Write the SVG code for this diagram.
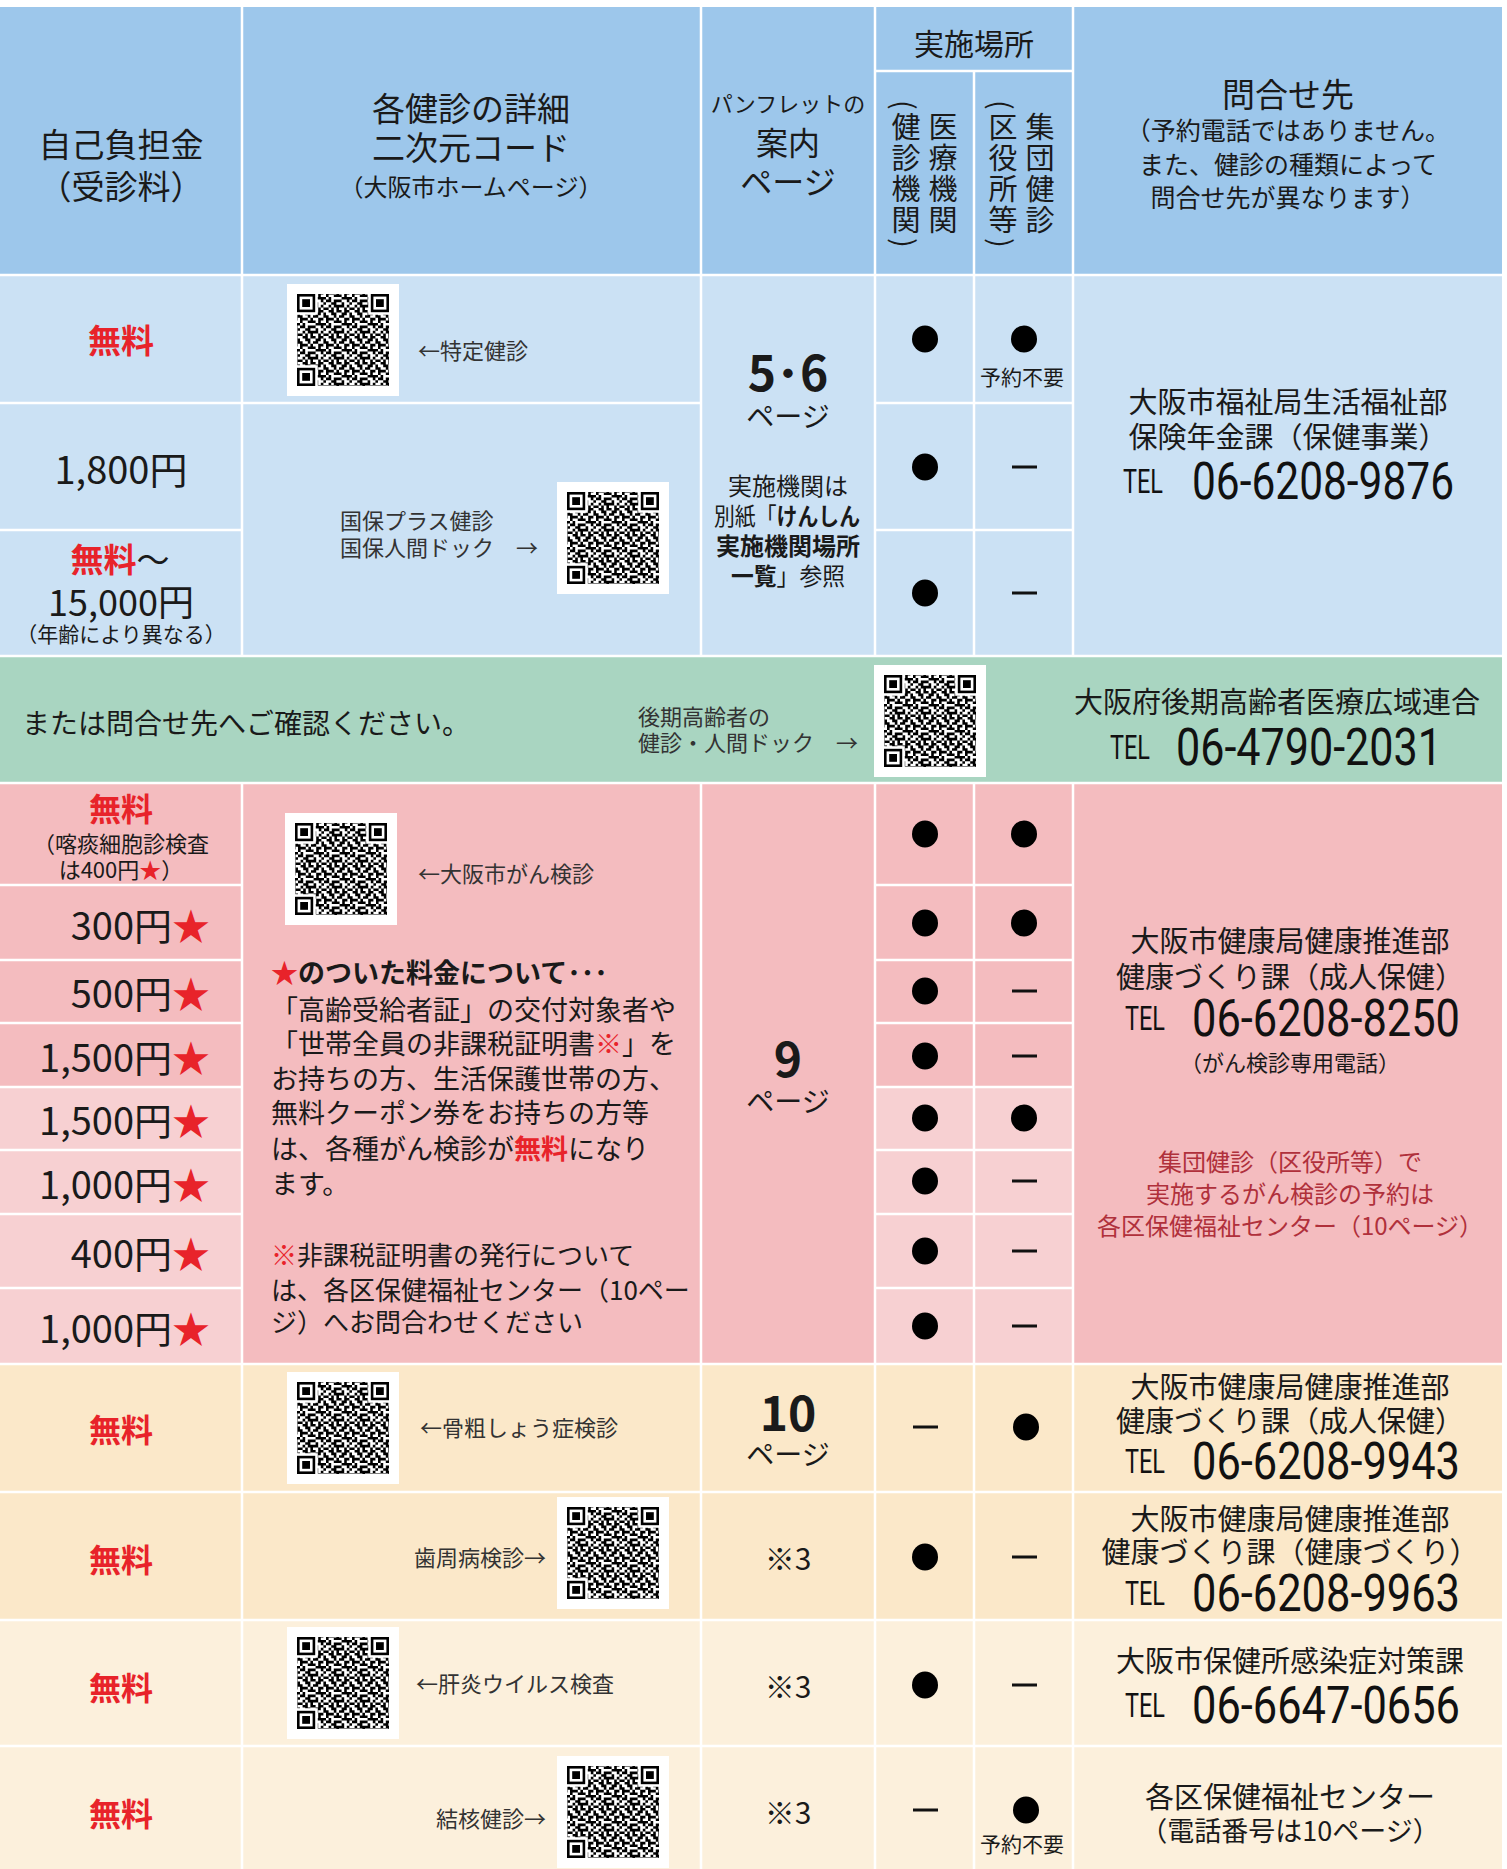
<svg xmlns="http://www.w3.org/2000/svg" xmlns:xlink="http://www.w3.org/1999/xlink" width="1507" height="1869" viewBox="0 0 1507 1869">
<style>
text{font-family:"Noto Sans CJK JP","Noto Sans",sans-serif;fill:#1a1a1a;dominant-baseline:central}
.c{text-anchor:middle}
.e{text-anchor:end}
.red{fill:#e8232a}
.b{font-weight:700}
.dr{fill:#b0303b}
.g{fill:#333}
.v{writing-mode:vertical-rl;font-size:29px;letter-spacing:2px}
.tel{font-family:"Liberation Sans Narrow","Roboto","Liberation Sans",sans-serif;fill:#111}
.tl{font-size:34px}
.tn{font-size:52px}
.s33{font-size:33px}.s32{font-size:32px}.s30{font-size:30px}.s29{font-size:29px}.s28{font-size:28px}.s27{font-size:27px}.s26{font-size:26px}.s25{font-size:25px}.s24{font-size:24px}.s22{font-size:22px}.s21{font-size:21px}.s20{font-size:20px}.s38{font-size:38px}.s48{font-size:48px}
.dot{fill:#000}
.dash{stroke:#111;stroke-width:3}
.grid{stroke:#fff;stroke-width:2.5;fill:none}
</style>
<defs>
<pattern id="qrp" width="10" height="10" patternUnits="userSpaceOnUse" patternTransform="scale(2.6)">
<path d="M0 0h1v1h-1z M2 0h2v1h-2z M6 0h2v1h-2z M9 0h1v1h-1z M1 1h2v1h-2z M4 1h1v1h-1z M7 1h2v1h-2z M0 2h2v1h-2z M4 2h2v1h-2z M8 2h1v1h-1z M2 3h2v1h-2z M5 3h3v1h-3z M9 3h1v1h-1z M0 4h1v1h-1z M2 4h1v1h-1z M5 4h1v1h-1z M8 4h2v1h-2z M1 5h4v1h-4z M6 5h1v1h-1z M0 6h1v1h-1z M3 6h1v1h-1z M5 6h2v1h-2z M8 6h2v1h-2z M1 7h1v1h-1z M4 7h1v1h-1z M7 7h2v1h-2z M0 8h2v1h-2z M3 8h1v1h-1z M6 8h1v1h-1z M8 8h2v1h-2z M2 9h1v1h-1z M4 9h2v1h-2z M7 9h1v1h-1z M9 9h1v1h-1z" fill="#000"/>
</pattern>
<g id="fp"><rect x="-2.6" y="-2.6" width="23.4" height="23.4" fill="#fff"/><rect width="18.2" height="18.2" fill="#000"/><rect x="2.6" y="2.6" width="13" height="13" fill="#fff"/><rect x="5.2" y="5.2" width="7.8" height="7.8" fill="#000"/></g>
<g id="qr">
<rect width="112" height="112" fill="#fff"/>
<rect x="10" y="10" width="92" height="92" fill="url(#qrp)"/>
<use href="#fp" x="10" y="10"/><use href="#fp" x="83.8" y="10"/><use href="#fp" x="10" y="83.8"/>
</g>
</defs>

<rect width="1507" height="1869" fill="#fff"/>
<g id="backgrounds">
<rect x="0" y="7" width="1502" height="268" fill="#9DC7EB"/>
<rect x="0" y="275" width="1502" height="381" fill="#CBE1F4"/>
<rect x="0" y="656" width="1502" height="127" fill="#A9D5C1"/>
<rect x="0" y="783" width="1502" height="581" fill="#F4BCBF"/>
<rect x="0" y="1087" width="242" height="277" fill="#F7D0D2"/>
<rect x="875" y="1087" width="198" height="277" fill="#F7D0D2"/>
<rect x="0" y="1364" width="1502" height="256" fill="#FBE8C9"/>
<rect x="0" y="1620" width="1502" height="249" fill="#FCF0DC"/>
</g>
<g id="gridlines" class="grid">
<path d="M0 275H1502M0 656H1502M0 783H1502M0 1364H1502M0 1492H1502M0 1620H1502M0 1746H1502M875 71H1073M0 403H701M875 403H1073M0 530H242M875 530H1073M0 885H242M875 885H1073M0 960H242M875 960H1073M0 1023H242M875 1023H1073M0 1087H242M875 1087H1073M0 1150H242M875 1150H1073M0 1214H242M875 1214H1073M0 1288H242M875 1288H1073"/>
<path d="M242 7V656M701 7V656M875 7V656M974 71V656M1073 7V656M242 783V1869M701 783V1869M875 783V1869M974 783V1869M1073 783V1869"/>
</g>
<g id="connectors"></g>

<g id="header">
<text class="c s33" x="121" y="143">自己負担金</text>
<text class="c s33" x="121" y="185">（受診料）</text>
<text class="c s33" x="471" y="107">各健診の詳細</text>
<text class="c s33" x="471" y="146">二次元コード</text>
<text class="c s24" x="471" y="185">（大阪市ホームページ）</text>
<text class="c s22" x="788" y="102">パンフレットの</text>
<text class="c s32" x="788" y="141">案内</text>
<text class="c s32" x="788" y="180">ページ</text>
<text class="c s30" x="974" y="42">実施場所</text>
<text class="v" x="943" y="112">医療機関</text>
<text class="s29 c" transform="translate(906 105) rotate(90)">(</text>
<text class="v" x="906" y="112">健診機関</text>
<text class="s29 c" transform="translate(906 243) rotate(90)">)</text>
<text class="v" x="1040" y="112">集団健診</text>
<text class="s29 c" transform="translate(1003 105) rotate(90)">(</text>
<text class="v" x="1003" y="112">区役所等</text>
<text class="s29 c" transform="translate(1003 243) rotate(90)">)</text>
<text class="c s33" x="1288" y="93">問合せ先</text>
<text class="c s25" x="1288" y="129">（予約電話ではありません。</text>
<text class="c s25" x="1288" y="163">また、健診の種類によって</text>
<text class="c s25" x="1288" y="196">問合せ先が異なります）</text>
</g>

<g id="row-tokutei">
<text class="c s33 red b" x="121" y="339">無料</text>
<use href="#qr" x="287" y="284"/>
<text class="s22 g" x="418" y="349">←特定健診</text>
<ellipse class="dot" cx="925" cy="339" rx="13" ry="13.5"/>
<ellipse class="dot" cx="1024" cy="339" rx="13" ry="13.5"/>
<text class="c s21" x="1022" y="376">予約不要</text>
</g>
<g id="row-kokuho">
<text class="c s38" x="121" y="467">1,800円</text>
<text class="c s33" x="120" y="558"><tspan class="red b">無料</tspan>～</text>
<text class="c s36" style="font-size:36px" x="121" y="600">15,000円</text>
<text class="c s21" x="121" y="633">（年齢により異なる）</text>
<text class="s22 g" x="340" y="519">国保プラス健診</text>
<text class="s22 g" x="340" y="546">国保人間ドック　→</text>
<use href="#qr" x="557" y="482"/>
<ellipse class="dot" cx="925" cy="467" rx="13" ry="13.5"/>
<line class="dash" x1="1012" y1="467" x2="1037" y2="467"/>
<ellipse class="dot" cx="925" cy="593" rx="13" ry="13.5"/>
<line class="dash" x1="1012" y1="593" x2="1037" y2="593"/>
</g>
<g id="page-56">
<text class="c s48 b" x="788" y="370">5･6</text>
<text class="c s28" x="788" y="415">ページ</text>
<text class="c s24" x="788" y="484">実施機関は</text>
<text class="c s24" x="787" y="514" textLength="146" lengthAdjust="spacingAndGlyphs">別紙「<tspan class="b">けんしん</tspan></text>
<text class="c s24 b" x="788" y="544">実施機関場所</text>
<text class="c s24" x="788" y="574" textLength="114" lengthAdjust="spacingAndGlyphs"><tspan class="b">一覧</tspan>」参照</text>
</g>
<g id="contact-fukushi">
<text class="c s29" x="1288" y="400">大阪市福祉局生活福祉部</text>
<text class="c s29" x="1288" y="435">保険年金課（保健事業）</text>
<text class="tel tl" x="1123" y="481" textLength="40" lengthAdjust="spacingAndGlyphs">TEL</text>
<text class="tel tn" x="1192" y="481" textLength="262" lengthAdjust="spacingAndGlyphs">06-6208-9876</text>
</g>

<g id="row-kouki">
<text class="s28" x="22" y="722">または問合せ先へご確認ください。</text>
<text class="s22 g" x="638" y="715">後期高齢者の</text>
<text class="s22 g" x="638" y="741">健診・人間ドック　→</text>
<use href="#qr" x="874" y="665"/>
<text class="c s29" x="1277" y="700">大阪府後期高齢者医療広域連合</text>
<text class="tel tl" x="1110" y="747" textLength="40" lengthAdjust="spacingAndGlyphs">TEL</text>
<text class="tel tn" x="1176" y="747" textLength="266" lengthAdjust="spacingAndGlyphs">06-4790-2031</text>
</g>

<g id="row-gan">
<text class="c s32 red b" x="121" y="807">無料</text>
<text class="c s22" x="121" y="842">（喀痰細胞診検査</text>
<text class="c s22" x="121" y="868">は400円<tspan class="red">★</tspan>）</text>
<text class="e s38" x="210" y="923">300円<tspan class="red">★</tspan></text>
<text class="e s38" x="210" y="991">500円<tspan class="red">★</tspan></text>
<text class="e s38" x="210" y="1055">1,500円<tspan class="red">★</tspan></text>
<text class="e s38" x="210" y="1118">1,500円<tspan class="red">★</tspan></text>
<text class="e s38" x="210" y="1182">1,000円<tspan class="red">★</tspan></text>
<text class="e s38" x="210" y="1251">400円<tspan class="red">★</tspan></text>
<text class="e s38" x="210" y="1326">1,000円<tspan class="red">★</tspan></text>
<use href="#qr" x="285" y="813"/>
<text class="s22 g" x="418" y="872">←大阪市がん検診</text>
<text class="s27 b" x="271" y="971"><tspan class="red">★</tspan>のついた料金について･･･</text>
<text class="s27" x="271" y="1008">「高齢受給者証」の交付対象者や</text>
<text class="s27" x="271" y="1042">「世帯全員の非課税証明書<tspan class="red">※</tspan>」を</text>
<text class="s27" x="271" y="1077">お持ちの方、生活保護世帯の方、</text>
<text class="s27" x="271" y="1111">無料クーポン券をお持ちの方等</text>
<text class="s27" x="271" y="1147">は、各種がん検診が<tspan class="red b">無料</tspan>になり</text>
<text class="s27" x="271" y="1182">ます。</text>
<text class="s26" x="271" y="1253"><tspan class="red">※</tspan>非課税証明書の発行について</text>
<text class="s26" x="271" y="1288">は、各区保健福祉センター（10ペー</text>
<text class="s26" x="271" y="1320">ジ）へお問合わせください</text>
<text class="c s48 b" x="788" y="1056">9</text>
<text class="c s28" x="788" y="1100">ページ</text>
<ellipse class="dot" cx="925" cy="834" rx="13" ry="13.5"/><ellipse class="dot" cx="1024" cy="834" rx="13" ry="13.5"/>
<ellipse class="dot" cx="925" cy="923" rx="13" ry="13.5"/><ellipse class="dot" cx="1024" cy="923" rx="13" ry="13.5"/>
<ellipse class="dot" cx="925" cy="991" rx="13" ry="13.5"/><line class="dash" x1="1012" y1="991" x2="1037" y2="991"/>
<ellipse class="dot" cx="925" cy="1056" rx="13" ry="13.5"/><line class="dash" x1="1012" y1="1056" x2="1037" y2="1056"/>
<ellipse class="dot" cx="925" cy="1118" rx="13" ry="13.5"/><ellipse class="dot" cx="1024" cy="1118" rx="13" ry="13.5"/>
<ellipse class="dot" cx="925" cy="1181" rx="13" ry="13.5"/><line class="dash" x1="1012" y1="1181" x2="1037" y2="1181"/>
<ellipse class="dot" cx="925" cy="1251" rx="13" ry="13.5"/><line class="dash" x1="1012" y1="1251" x2="1037" y2="1251"/>
<ellipse class="dot" cx="925" cy="1326" rx="13" ry="13.5"/><line class="dash" x1="1012" y1="1326" x2="1037" y2="1326"/>
<text class="c s29" x="1290" y="939">大阪市健康局健康推進部</text>
<text class="c s29" x="1290" y="975">健康づくり課（成人保健）</text>
<text class="tel tl" x="1125" y="1018" textLength="40" lengthAdjust="spacingAndGlyphs">TEL</text>
<text class="tel tn" x="1192" y="1018" textLength="268" lengthAdjust="spacingAndGlyphs">06-6208-8250</text>
<text class="c s22" x="1290" y="1061">（がん検診専用電話）</text>
<text class="c s24 dr" x="1290" y="1160">集団健診（区役所等）で</text>
<text class="c s24 dr" x="1290" y="1192">実施するがん検診の予約は</text>
<text class="c s24 dr" x="1290" y="1224">各区保健福祉センター（10ページ）</text>
</g>

<g id="row-kotsusosho">
<text class="c s32 red b" x="121" y="1428">無料</text>
<use href="#qr" x="287" y="1372"/>
<text class="s22 g" x="420" y="1426">←骨粗しょう症検診</text>
<text class="c s48 b" x="788" y="1410">10</text>
<text class="c s28" x="788" y="1453">ページ</text>
<line class="dash" x1="913" y1="1427" x2="938" y2="1427"/>
<ellipse class="dot" cx="1026" cy="1427" rx="13" ry="13.5"/>
<text class="c s29" x="1290" y="1385">大阪市健康局健康推進部</text>
<text class="c s29" x="1290" y="1419">健康づくり課（成人保健）</text>
<text class="tel tl" x="1125" y="1461" textLength="40" lengthAdjust="spacingAndGlyphs">TEL</text>
<text class="tel tn" x="1192" y="1461" textLength="268" lengthAdjust="spacingAndGlyphs">06-6208-9943</text>
</g>

<g id="row-shishu">
<text class="c s32 red b" x="121" y="1558">無料</text>
<text class="e s22 g" x="546" y="1556">歯周病検診→</text>
<use href="#qr" x="557" y="1497"/>
<text class="c s30" x="788" y="1557">※3</text>
<ellipse class="dot" cx="925" cy="1557" rx="13" ry="13.5"/>
<line class="dash" x1="1012" y1="1557" x2="1037" y2="1557"/>
<text class="c s29" x="1290" y="1517">大阪市健康局健康推進部</text>
<text class="c s29" x="1290" y="1550">健康づくり課（健康づくり）</text>
<text class="tel tl" x="1125" y="1593" textLength="40" lengthAdjust="spacingAndGlyphs">TEL</text>
<text class="tel tn" x="1192" y="1593" textLength="268" lengthAdjust="spacingAndGlyphs">06-6208-9963</text>
</g>

<g id="row-kanen">
<text class="c s32 red b" x="121" y="1686">無料</text>
<use href="#qr" x="287" y="1627"/>
<text class="s22 g" x="416" y="1682">←肝炎ウイルス検査</text>
<text class="c s30" x="788" y="1685">※3</text>
<ellipse class="dot" cx="925" cy="1685" rx="13" ry="13.5"/>
<line class="dash" x1="1012" y1="1685" x2="1037" y2="1685"/>
<text class="c s29" x="1290" y="1659">大阪市保健所感染症対策課</text>
<text class="tel tl" x="1125" y="1705" textLength="40" lengthAdjust="spacingAndGlyphs">TEL</text>
<text class="tel tn" x="1192" y="1705" textLength="268" lengthAdjust="spacingAndGlyphs">06-6647-0656</text>
</g>

<g id="row-kekkaku">
<text class="c s32 red b" x="121" y="1812">無料</text>
<text class="e s22 g" x="546" y="1817">結核健診→</text>
<use href="#qr" x="557" y="1756"/>
<text class="c s30" x="788" y="1811">※3</text>
<line class="dash" x1="913" y1="1810" x2="938" y2="1810"/>
<ellipse class="dot" cx="1026" cy="1810" rx="13" ry="13.5"/>
<text class="c s21" x="1022" y="1843">予約不要</text>
<text class="c s29" x="1290" y="1795">各区保健福祉センター</text>
<text class="c s27" x="1290" y="1829">（電話番号は10ページ）</text>
</g>
</svg>
